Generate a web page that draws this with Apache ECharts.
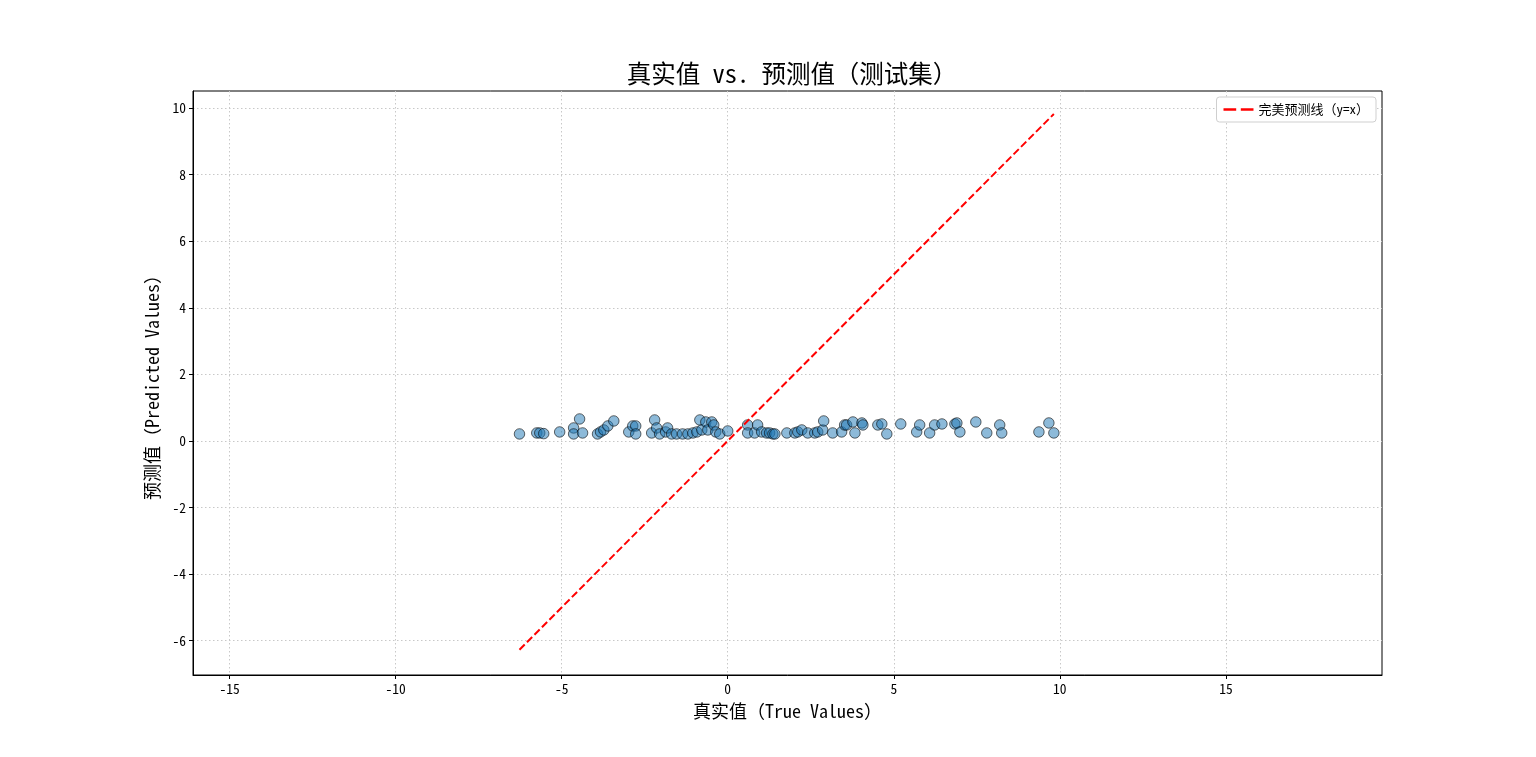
<!DOCTYPE html>
<html>
<head>
<meta charset="utf-8">
<script src="https://cdn.jsdelivr.net/npm/echarts@6/dist/echarts.min.js"></script>
<style>
  html, body { margin: 0; padding: 0; background: #fff; }
  #main { width: 1536px; height: 757px; }
</style>
</head>
<body>
<div id="main"></div>
<script>
// true values (x) and predicted values (y)
const trueValues = [
  -6.27, -5.75, -5.66, -5.54, -5.06, -4.64, -4.64, -4.46, -4.37,
  -3.92, -3.83, -3.73, -3.61, -3.43, -2.98, -2.86, -2.77, -2.77,
  -2.29, -2.20, -2.14, -2.05, -1.87, -1.81, -1.69, -1.54, -1.36,
  -1.20, -1.05, -0.93, -0.84, -0.78, -0.66, -0.60, -0.48, -0.42,
  -0.36, -0.24, 0.00, 0.60, 0.60, 0.81, 0.90, 1.02, 1.17, 1.26,
  1.36, 1.42, 1.78, 2.02, 2.11, 2.23, 2.41, 2.62, 2.71, 2.86, 2.89,
  3.16, 3.43, 3.52, 3.58, 3.77, 3.83, 4.04, 4.07, 4.52, 4.64, 4.79,
  5.21, 5.69, 5.78, 6.08, 6.23, 6.45, 6.84, 6.90, 6.99, 7.47, 7.80,
  8.19, 8.25, 9.37, 9.67, 9.82
]
const predValues = [
  0.21, 0.24, 0.24, 0.22, 0.27, 0.39, 0.21, 0.66, 0.24,
  0.21, 0.27, 0.33, 0.45, 0.60, 0.27, 0.45, 0.45, 0.21,
  0.24, 0.63, 0.39, 0.21, 0.27, 0.39, 0.21, 0.21, 0.21,
  0.21, 0.24, 0.27, 0.63, 0.33, 0.57, 0.33, 0.57, 0.48,
  0.27, 0.21, 0.30, 0.48, 0.24, 0.24, 0.48, 0.27, 0.24, 0.24,
  0.21, 0.21, 0.24, 0.24, 0.27, 0.33, 0.24, 0.24, 0.27, 0.33, 0.60,
  0.24, 0.27, 0.48, 0.48, 0.57, 0.24, 0.54, 0.48, 0.48, 0.51, 0.21,
  0.51, 0.27, 0.48, 0.24, 0.48, 0.51, 0.51, 0.54, 0.27, 0.57, 0.24,
  0.48, 0.24, 0.27, 0.54, 0.24
]
const xTicks = [-15, -10, -5, 0, 5, 10, 15]
const yTicks = [-6, -4, -2, 0, 2, 4, 6, 8, 10]

const points = trueValues.map((v, i) => [v, predValues[i]])
const lo = Math.min(...trueValues)
const hi = Math.max(...trueValues)

// half-width latin like SimHei if the mono CJK face is there
const font = "'Noto Sans Mono CJK SC', 'Noto Sans CJK SC', sans-serif"

const gridLine = { show: true, lineStyle: { color: '#c8c8c8', type: [1.5, 2.5], width: 1 } }

const chart = echarts.init(document.getElementById('main'))
chart.setOption({
  animation: false,
  backgroundColor: '#fff',
  title: {
    text: '真实值 vs. 预测值（测试集）',
    left: 787, top: 56, textAlign: 'center',
    textStyle: { fontFamily: font, fontSize: 24.5, fontWeight: 'normal', color: '#000' }
  },
  legend: {
    right: 160, top: 97,
    backgroundColor: '#fff',
    borderColor: '#cfcfcf', borderWidth: 1, borderRadius: 3,
    padding: [6, 7, 6, 7],
    itemWidth: 30, itemHeight: 12, itemGap: 8,
    textStyle: { fontFamily: font, fontSize: 13, color: '#000' },
    data: [{ name: '完美预测线（y=x）', icon: 'path://M0,5 L11,5 L11,7 L0,7 Z M15,5 L26,5 L26,7 L15,7 Z' }]
  },
  grid: {
    left: 193, right: 154, top: 91, bottom: 82,
    show: true, borderColor: '#000', borderWidth: 1
  },
  xAxis: {
    type: 'value', min: -16.1, max: 19.7,
    name: '真实值（True Values）', nameLocation: 'middle', nameGap: 27,
    nameTextStyle: { fontFamily: font, fontSize: 18, color: '#000' },
    axisLine: { show: true, onZero: false, lineStyle: { color: '#000' } },
    axisTick: { show: true, length: 4, lineStyle: { color: '#000' }, customValues: xTicks },
    axisLabel: { fontFamily: font, fontSize: 13.5, color: '#000', margin: 7, customValues: xTicks },
    splitLine: gridLine
  },
  yAxis: {
    type: 'value', min: -7.03, max: 10.51,
    name: '预测值（Predicted Values）', nameLocation: 'middle', nameGap: 30,
    nameTextStyle: { fontFamily: font, fontSize: 18, color: '#000' },
    axisLine: { show: true, onZero: false, lineStyle: { color: '#000' } },
    axisTick: { show: true, length: 4, lineStyle: { color: '#000' }, customValues: yTicks },
    axisLabel: { fontFamily: font, fontSize: 13.5, color: '#000', margin: 7, customValues: yTicks },
    splitLine: gridLine
  },
  series: [
    {
      type: 'scatter',
      data: points,
      symbolSize: 10.5,
      itemStyle: { color: 'rgba(31,119,180,0.64)', borderColor: 'rgba(0,0,0,0.72)', borderWidth: 1 },
      z: 2
    },
    {
      name: '完美预测线（y=x）',
      type: 'line',
      data: [[lo, lo], [hi, hi]],
      symbol: 'none',
      lineStyle: { color: '#ff0000', width: 2, type: [7.4, 3.2] },
      itemStyle: { color: '#ff0000' },
      z: 3
    }
  ]
})
</script>
</body>
</html>
